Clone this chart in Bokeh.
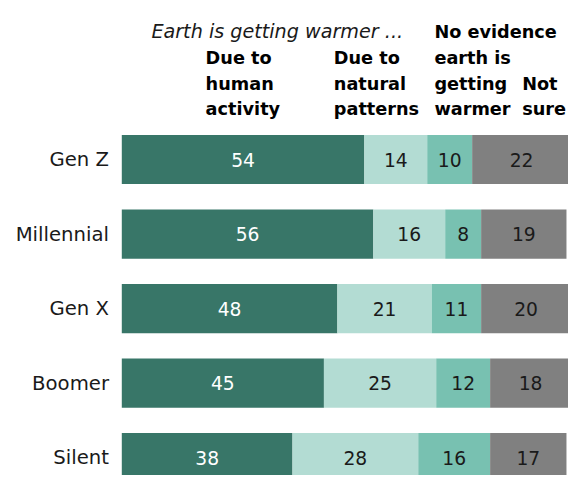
from bokeh.plotting import figure
from bokeh.models import Range1d, ColumnDataSource
from bokeh.core.properties import value
from bokeh.embed import file_html
from bokeh.resources import INLINE

# ---- data ----
generations = ["Gen Z", "Millennial", "Gen X", "Boomer", "Silent"]
human_activity = [54, 56, 48, 45, 38]
natural_patterns = [14, 16, 21, 25, 28]
no_evidence = [10, 8, 11, 12, 16]
not_sure = [22, 19, 20, 18, 17]

series_keys = ["human", "natural", "noev", "notsure"]
series_headers = [
    ["Due to", "human", "activity"],
    ["Due to", "natural", "patterns"],
    ["No evidence", "earth is", "getting", "warmer"],
    ["Not", "sure"],
]
header_intro = "Earth is getting warmer ..."

colors = ["#387668", "#b3dcd3", "#78c1b1", "#808080"]
label_colors = ["#ffffff", "#1a1a1a", "#1a1a1a", "#1a1a1a"]

FONT = value("DejaVu Sans")

# ---- layout helpers (reference pixels -> data units) ----
REF_W, REF_H = 576, 483       # layout measured on this canvas
W, H = 568, 475               # figure size (fits the window)
SCALE = min(W / REF_W, H / REF_H)
X0_PX = 123.0                 # where 0% sits
PX_PER_PCT = 4.555
Y0_PX = 161.7                 # centre of first bar
PX_PER_ROW = 75.8

def dx(px):
    return (px - X0_PX) / PX_PER_PCT

def dy(py):
    return (py - Y0_PX) / PX_PER_ROW

def fs(px):
    return f"{px * SCALE:.2f}px"

p = figure(width=W, height=H, output_backend="svg", toolbar_location=None,
           x_range=Range1d(dx(0), dx(REF_W)), y_range=Range1d(dy(REF_H), dy(0)),
           min_border=0, min_border_left=0, min_border_right=0,
           min_border_top=0, min_border_bottom=0)
p.axis.visible = False
p.grid.visible = False
p.outline_line_color = None
p.background_fill_color = "white"
p.border_fill_color = "white"

rows = list(range(len(generations)))
src = ColumnDataSource(dict(
    y=rows, cat=generations,
    human=human_activity, natural=natural_patterns,
    noev=no_evidence, notsure=not_sure,
))

p.hbar_stack(series_keys, y="y", height=0.66, color=colors, line_color=None, source=src)

# value labels
series_vals = [human_activity, natural_patterns, no_evidence, not_sure]
for k, vals in enumerate(series_vals):
    xs, ys, txt = [], [], []
    for i in rows:
        left = sum(series_vals[j][i] for j in range(k))
        xs.append(left + vals[i] / 2)
        ys.append(i)
        txt.append(str(vals[i]))
    p.text(x=xs, y=ys, text=txt, text_align="center", text_baseline="middle",
           text_font=FONT, text_font_size=fs(19), text_color=label_colors[k])

# category labels
p.text(x=[dx(110)] * len(rows), y=rows, text=generations, text_align="right",
       text_baseline="middle", text_font=FONT, text_font_size=fs(20),
       text_color="#1a1a1a")

# headers
baselines = [32, 58, 84.5, 110.5]
p.text(x=[dx(153)], y=[dy(baselines[0])], text=[header_intro], text_align="left",
       text_baseline="alphabetic", text_font=FONT, text_font_size=fs(19.5),
       text_font_style="italic", text_color="#1a1a1a")

header_lefts = [208, 338, 440, 529]
for k, lines in enumerate(series_headers):
    start = 4 - len(lines)
    xs = [dx(header_lefts[k])] * len(lines)
    ys = [dy(baselines[start + n]) for n in range(len(lines))]
    p.text(x=xs, y=ys, text=lines, text_align="left", text_baseline="alphabetic",
           text_font=FONT, text_font_size=fs(18), text_font_style="bold",
           text_color="#000000")

open("out.html", "w").write(file_html(p, INLINE))
